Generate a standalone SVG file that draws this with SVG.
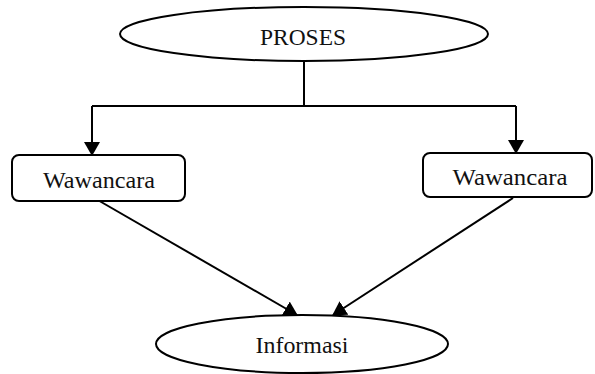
<svg xmlns="http://www.w3.org/2000/svg" width="595" height="374" viewBox="0 0 595 374">
<defs>
<marker id="ah" markerWidth="14" markerHeight="16" refX="13" refY="8" orient="auto" markerUnits="userSpaceOnUse"><path d="M0,0 L14,8 L0,16 z" fill="#000"/></marker>
</defs>
<style>
.n{fill:#fff;stroke:#000;stroke-width:2}
.t{font-family:"Liberation Serif","Times New Roman",serif;font-size:24px;fill:#111;text-anchor:middle}
.c{stroke:#000;stroke-width:2;fill:none}
</style>
<rect width="595" height="374" fill="#fff"/>
<g id="connectors">
<path class="c" d="M304,62 V106"/>
<path class="c" d="M92,106 H516"/>
<path class="c" d="M92,106 V155" marker-end="url(#ah)"/>
<path class="c" d="M516,106 V153" marker-end="url(#ah)"/>
<path class="c" d="M96,199 L297,315" marker-end="url(#ah)"/>
<path class="c" d="M513,198 L333,315" marker-end="url(#ah)"/>
</g>
<g id="proses">
<ellipse class="n" cx="304" cy="34" rx="184" ry="27"/>
<text class="t" x="303" y="45" font-family="Liberation Serif, serif" textLength="86" lengthAdjust="spacingAndGlyphs">PROSES</text>
</g>
<g id="wawancara1">
<rect class="n" x="12" y="155" width="173" height="46" rx="7"/>
<text class="t" x="99" y="188" font-family="Liberation Serif, serif" textLength="112" lengthAdjust="spacingAndGlyphs">Wawancara</text>
</g>
<g id="wawancara2">
<rect class="n" x="423" y="153" width="169" height="44" rx="7"/>
<text class="t" x="510" y="185" font-family="Liberation Serif, serif" textLength="115" lengthAdjust="spacingAndGlyphs">Wawancara</text>
</g>
<g id="informasi">
<ellipse class="n" cx="302" cy="344" rx="146" ry="29"/>
<text class="t" x="302" y="353" font-family="Liberation Serif, serif" textLength="93" lengthAdjust="spacingAndGlyphs">Informasi</text>
</g>
</svg>
